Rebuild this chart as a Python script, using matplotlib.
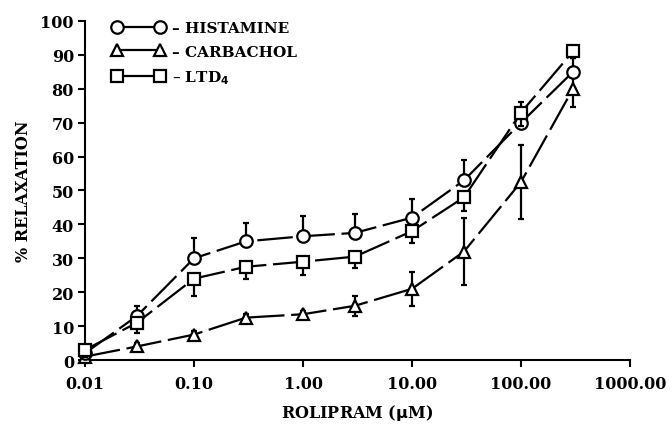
import matplotlib
matplotlib.use("Agg")
import matplotlib.pyplot as plt

# Rolipram concentrations (uM)
conc = [0.01, 0.03, 0.1, 0.3, 1.0, 3.0, 10.0, 30.0, 100.0, 300.0]

# % relaxation, mean and error for each contractile agent
histamine = [2, 13, 30, 35, 36.5, 37.5, 42, 53, 70, 85]
histamine_err = [1, 3, 6, 5.5, 6, 5.5, 5.5, 6, 6, 4]

carbachol = [1, 4, 7.5, 12.5, 13.5, 16, 21, 32, 52.5, 80]
carbachol_err = [1, 1, 1, 1, 1, 3, 5, 10, 11, 5.5]

ltd4 = [3, 11, 24, 27.5, 29, 30.5, 38, 48, 73, 91]
ltd4_err = [2, 3, 5, 3.5, 4, 3.5, 3.5, 4, 4, 2]

x_ticks = [0.01, 0.1, 1, 10, 100, 1000]
x_tick_labels = ["0.01", "0.10", "1.00", "10.00", "100.00", "1000.00"]
y_ticks = list(range(0, 101, 10))

plt.rcParams["font.family"] = ["DejaVu Serif"]
plt.rcParams["font.weight"] = "bold"
plt.rcParams["mathtext.default"] = "bf"

fig = plt.figure(figsize=(6.72, 4.31), dpi=100)
ax = fig.add_axes([0.1265, 0.1624, 0.8110, 0.7866])

common = dict(color="black", lw=1.6, ms=9, mfc="white", mec="black", mew=1.6,
              capsize=2.5, elinewidth=1.6, capthick=2.2, clip_on=False,
              dashes=(16, 3))

# Histamine: bars drawn upward
ax.errorbar(conc, histamine, yerr=[[0] * len(conc), histamine_err], marker="o",
            zorder=4, label="– HISTAMINE", **common)
# Carbachol: bars both ways
ax.errorbar(conc, carbachol, yerr=carbachol_err, marker="^",
            zorder=3, label="– CARBACHOL", **{**common, "ms": 8.5})
# LTD4: bars drawn downward
ax.errorbar(conc, ltd4, yerr=[ltd4_err, [0] * len(conc)], marker="s",
            zorder=5, label=r"– LTD$_4$", **{**common, "ms": 8.5})

ax.set_xscale("log")
ax.set_xlim(0.01, 1000)
ax.set_ylim(0, 100)
ax.set_xticks(x_ticks)
ax.set_xticklabels(x_tick_labels)
ax.set_yticks(y_ticks)
ax.minorticks_off()
ax.tick_params(axis="both", direction="out", length=5, width=1.5,
               labelsize=11.5)
ax.tick_params(axis="x", pad=6)
ax.tick_params(axis="y", pad=3)
for side in ("top", "right"):
    ax.spines[side].set_visible(False)
for side in ("left", "bottom"):
    ax.spines[side].set_linewidth(1.5)

ax.set_xlabel(r"ROLIPRAM ($\mu$M)", fontsize=11.5, fontweight="bold", labelpad=7)
ax.set_ylabel("% RELAXATION", fontsize=11.5, fontweight="bold", labelpad=6)

handles, labels = ax.get_legend_handles_labels()
handles = [h[0] for h in handles]
leg = ax.legend(handles, labels, loc="upper left", bbox_to_anchor=(0.025, 1.04),
                frameon=False, numpoints=2, handlelength=3.4, handletextpad=0.5,
                labelspacing=0.62, fontsize=11)
for h in leg.legend_handles:
    h.set_linestyle("-")

fig.savefig("out.png", dpi=100)
